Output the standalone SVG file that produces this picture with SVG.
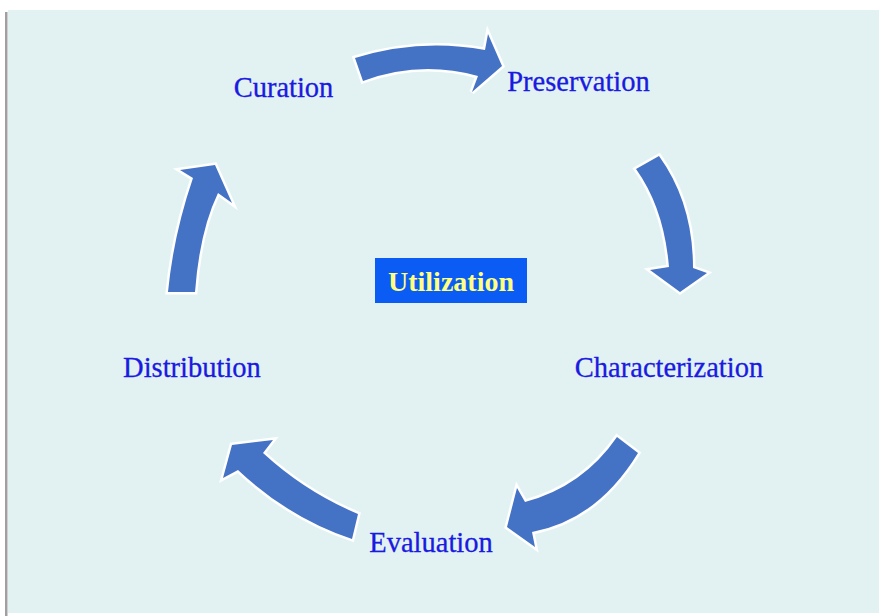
<svg xmlns="http://www.w3.org/2000/svg" width="879" height="616" viewBox="0 0 879 616">
  <style>
    .lbl { font-family: "Liberation Serif", "Times New Roman", serif; font-size: 28.5px; fill: #1a1ae0; stroke: #1a1ae0; stroke-width: 0.3; text-anchor: middle; }
    .center { font-family: "Liberation Serif", "Times New Roman", serif; font-size: 28px; font-weight: bold; fill: #ffff80; text-anchor: middle; }
    .arrow { fill: #4472c4; stroke: #ffffff; stroke-width: 5; stroke-linejoin: miter; paint-order: stroke; }
  </style>
  <rect x="0" y="0" width="879" height="616" fill="#ffffff"/>
  <rect x="8" y="10" width="871" height="603" fill="#e2f2f3"/>
  <rect x="5" y="12" width="2.5" height="604" fill="#a0a0a0"/>

  <g id="connectors">
    <path class="arrow" d="M 355,58 Q 420,38 485,50 L 488,34 L 502,66 L 472,92 L 478,76 Q 420,60 363,81 Z"/>
    <path class="arrow" d="M 636,169 Q 664,208 669,267 L 650,270 L 680,292 L 707,273 L 693,268 Q 693,203 659,156 Z"/>
    <path class="arrow" d="M 617,437 Q 583,486.5 525,502 L 517,488 L 507,527 L 535,547 L 532,532 Q 597,520 638,453 Z"/>
    <path class="arrow" d="M 358,514 Q 305.5,492 263,453 L 273,440 L 232,445 L 223,478 L 238,470 Q 289,518 352,539 Z"/>
    <path class="arrow" d="M 168,292 Q 173.5,235 193,178 L 180,170 L 215,165 L 232,203 L 218,193 Q 199.5,231.5 195,292 Z"/>
  </g>

  <g id="curation"><text class="lbl" x="283.5" y="97">Curation</text></g>
  <g id="preservation"><text class="lbl" x="578.5" y="91">Preservation</text></g>
  <g id="characterization"><text class="lbl" x="669" y="377">Characterization</text></g>
  <g id="evaluation"><text class="lbl" x="431" y="552">Evaluation</text></g>
  <g id="distribution"><text class="lbl" x="192" y="377">Distribution</text></g>
  <g id="utilization">
    <rect x="375" y="258" width="152" height="45" fill="#0a5cf5"/>
    <text class="center" x="451" y="291">Utilization</text>
  </g>
</svg>
